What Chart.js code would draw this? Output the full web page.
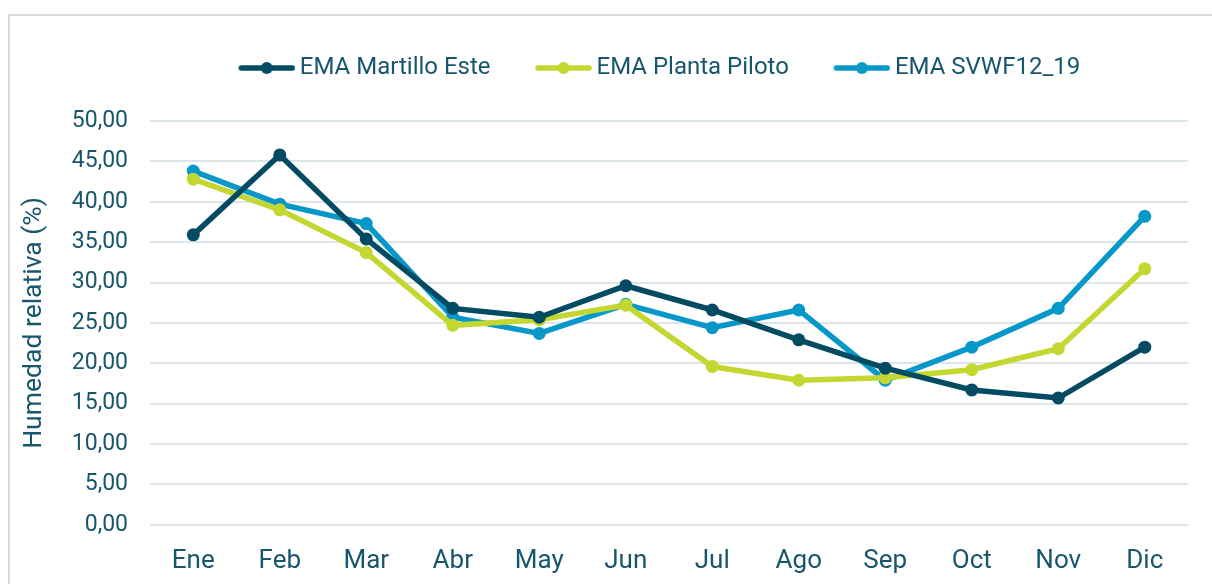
<!DOCTYPE html>
<html>
<head>
<meta charset="utf-8">
<script src="https://cdn.jsdelivr.net/npm/chart.js@4/dist/chart.umd.min.js"></script>
<style>
html,body{margin:0;padding:0;background:#fff;width:1212px;height:584px;overflow:hidden;}
#frame{position:absolute;left:8px;top:14px;width:1300px;height:700px;border-left:2px solid #d9d9d9;border-top:2px solid #d9d9d9;}
#wrap{position:absolute;left:0;top:0;width:1212px;height:584px;}
</style>
</head>
<body>
<div id="frame"></div>
<div id="wrap"><canvas id="c" width="1212" height="584"></canvas></div>
<script>
const months = ["Ene","Feb","Mar","Abr","May","Jun","Jul","Ago","Sep","Oct","Nov","Dic"];
const martilloEste = [35.9,45.8,35.4,26.8,25.7,29.6,26.6,22.9,19.4,16.7,15.7,22.0];
const plantaPiloto = [42.8,39.0,33.7,24.7,25.4,27.2,19.6,17.9,18.2,19.2,21.8,31.7];
const svwf = [43.8,39.7,37.3,25.7,23.7,27.3,24.4,26.6,17.9,22.0,26.8,38.2];
const seriesNames = ["EMA Martillo Este","EMA Planta Piloto","EMA SVWF12_19"];
const colors = ["#024B63","#C3D730","#0798C9"];
const yTicks = [0,5,10,15,20,25,30,35,40,45,50];

const textColor = "#17566C";
const gridColor = "#DCE5EA";

function legendIcon(color){
  const W = 101, H = 16, L = 57;
  const cv = document.createElement('canvas');
  cv.width = W; cv.height = H;
  const g = cv.getContext('2d');
  g.strokeStyle = color; g.lineWidth = 5.5; g.lineCap = 'round';
  g.beginPath(); g.moveTo(W - L + 3, H/2); g.lineTo(W - 3, H/2); g.stroke();
  g.fillStyle = color;
  g.beginPath(); g.arc(W - L/2, H/2, 6, 0, Math.PI*2); g.fill();
  return cv;
}

const dataSets = [martilloEste, plantaPiloto, svwf];
const datasets = dataSets.map((d,i)=>({
  label: seriesNames[i],
  data: d,
  borderColor: colors[i],
  backgroundColor: colors[i],
  borderWidth: 5.5,
  pointRadius: 6.5,
  pointHoverRadius: 6.5,
  pointBorderWidth: 0,
  pointStyle: 'circle',
  tension: 0
}));
const icons = colors.map(legendIcon);

const legendGap = {
  id: 'legendGap',
  afterInit(chart){
    const lg = chart.legend;
    if (!lg) return;
    const orig = lg.fit;
    lg.fit = function(){ orig.call(this); this.height += 31; };
  },
  afterLayout(chart){
    const lg = chart.legend;
    if (!lg) return;
    lg.left += 38; lg.right += 38;
  }
};

new Chart(document.getElementById('c'), {
  type: 'line',
  data: { labels: months, datasets: datasets },
  plugins: [legendGap],
  options: {
    responsive: false,
    animation: false,
    devicePixelRatio: 1,
    layout: { padding: { left: 18, right: 24, top: 48, bottom: -14 } },
    plugins: {
      tooltip: { enabled: false },
      legend: {
        position: 'top',
        align: 'center',
        labels: {
          usePointStyle: true,
          pointStyleWidth: 86,
          padding: 8,
          color: textColor,
          font: { family: 'Roboto', size: 24 },
          generateLabels: (chart) => chart.data.datasets.map((ds, i) => ({
            text: ds.label,
            fillStyle: ds.borderColor,
            strokeStyle: ds.borderColor,
            lineWidth: 0,
            pointStyle: icons[i],
            fontColor: textColor,
            datasetIndex: i,
            hidden: false
          }))
        }
      }
    },
    scales: {
      x: {
        offset: true,
        grid: { display: false, drawTicks: false },
        border: { display: false },
        ticks: { color: textColor, font: { family: 'Roboto', size: 26 }, padding: 21, maxRotation: 0 }
      },
      y: {
        min: 0, max: 50,
        afterBuildTicks: (axis) => { axis.ticks = yTicks.map(v => ({ value: v })); },
        grid: { color: gridColor, lineWidth: 2, drawTicks: false },
        border: { display: false },
        ticks: {
          color: textColor,
          font: { family: 'Roboto', size: 23 },
          padding: 22,
          callback: (v) => Number(v).toFixed(2).replace('.', ',')
        },
        title: {
          display: true,
          text: 'Humedad relativa (%)',
          color: textColor,
          font: { family: 'Roboto', size: 26.5 },
          padding: { top: 0, bottom: 0 }
        }
      }
    }
  }
});
</script>
</body>
</html>
